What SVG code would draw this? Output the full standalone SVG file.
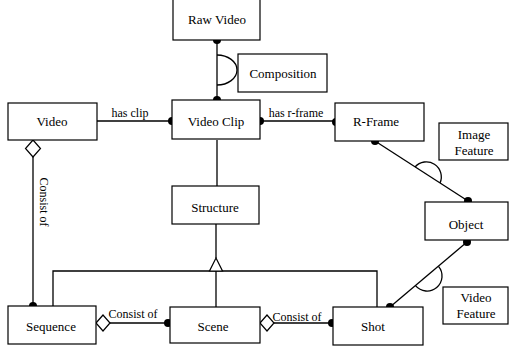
<svg xmlns="http://www.w3.org/2000/svg" width="510" height="347" viewBox="0 0 510 347">
<defs>
<style>
.box{fill:#fff;stroke:#000;stroke-width:1.2}
.ln{fill:none;stroke:#000;stroke-width:1.3}
.dot{fill:#000}
.dia{fill:#fff;stroke:#000;stroke-width:1.2}
.t{font-family:"Liberation Serif","DejaVu Serif",serif;font-size:13px;fill:#000;text-anchor:middle}
.lbl{font-size:12px}
</style>
</defs>
<rect width="510" height="347" fill="#fff"/>
<g id="connectors">
<line class="ln" x1="217" y1="40" x2="217" y2="100"/>
<path class="ln" d="M217,55 A20,15 0 0 1 217,85"/>
<line class="ln" x1="97" y1="121" x2="172" y2="121"/>
<line class="ln" x1="260" y1="121" x2="335" y2="121"/>
<line class="ln" x1="375" y1="141" x2="468" y2="201"/>
<path class="ln" d="M415,167 A15,15 0 0 1 440,183"/>
<line class="ln" x1="467" y1="242" x2="390" y2="307"/>
<path class="ln" d="M438.5,266.3 A15,15 0 0 1 415.5,285.7"/>
<line class="ln" x1="217" y1="140" x2="217" y2="186"/>
<line class="ln" x1="216" y1="224" x2="216" y2="258"/>
<polyline class="ln" points="53,306 53,271 377,271 377,307"/>
<line class="ln" x1="216" y1="271" x2="216" y2="307"/>
<polygon class="dia" points="216,258 222.5,271 209.5,271"/>
<line class="ln" x1="33" y1="157" x2="33" y2="306"/>
<polygon class="dia" points="33,140 40.5,148.5 33,157 25.5,148.5"/>
<line class="ln" x1="110" y1="323" x2="168" y2="323"/>
<polygon class="dia" points="96,323 103,315 110,323 103,331"/>
<line class="ln" x1="274" y1="323" x2="332" y2="323"/>
<polygon class="dia" points="260,323 267,315 274,323 267,331"/>
<circle class="dot" cx="217" cy="40" r="4"/>
<circle class="dot" cx="217" cy="100" r="4"/>
<circle class="dot" cx="172" cy="121" r="4"/>
<circle class="dot" cx="260" cy="121" r="4"/>
<circle class="dot" cx="336" cy="122" r="4"/>
<circle class="dot" cx="375" cy="141" r="4"/>
<circle class="dot" cx="468" cy="201" r="4"/>
<circle class="dot" cx="467" cy="242" r="4"/>
<circle class="dot" cx="390" cy="307" r="4"/>
<circle class="dot" cx="33" cy="306" r="4"/>
<circle class="dot" cx="168" cy="323" r="4"/>
<circle class="dot" cx="332" cy="323" r="4"/>
<text class="t lbl" x="130" y="117">has clip</text>
<text class="t lbl" x="296" y="117">has r-frame</text>
<text class="t lbl" x="133" y="318">Consist of</text>
<text class="t lbl" x="297" y="321">Consist of</text>
<text class="t lbl" transform="translate(40,202) rotate(90)">Consist of</text>
</g>
<g id="raw-video"><rect class="box" x="173" y="-2" width="87" height="42"/><text class="t" x="217" y="24">Raw Video</text></g>
<g id="composition"><rect class="box" x="238" y="54" width="89" height="38"/><text class="t" x="283" y="78">Composition</text></g>
<g id="video"><rect class="box" x="8" y="103" width="89" height="37"/><text class="t" x="52" y="126">Video</text></g>
<g id="video-clip"><rect class="box" x="172" y="100" width="88" height="39"/><text class="t" x="216" y="126">Video Clip</text></g>
<g id="r-frame"><rect class="box" x="335" y="103" width="89" height="38"/><text class="t" x="376" y="126">R-Frame</text></g>
<g id="image-feature"><rect class="box" x="439" y="123" width="69" height="37"/><text class="t" x="474" y="139">Image</text><text class="t" x="474" y="155">Feature</text></g>
<g id="structure"><rect class="box" x="172" y="186" width="87" height="38"/><text class="t" x="215" y="212">Structure</text></g>
<g id="object"><rect class="box" x="425" y="202" width="83" height="38"/><text class="t" x="466" y="229">Object</text></g>
<g id="video-feature"><rect class="box" x="443" y="287" width="65" height="37"/><text class="t" x="476" y="302">Video</text><text class="t" x="476" y="318">Feature</text></g>
<g id="sequence"><rect class="box" x="8" y="306" width="88" height="38"/><text class="t" x="51" y="331">Sequence</text></g>
<g id="scene"><rect class="box" x="170" y="307" width="90" height="36"/><text class="t" x="213" y="331">Scene</text></g>
<g id="shot"><rect class="box" x="333" y="307" width="90" height="38"/><text class="t" x="373" y="331">Shot</text></g>
</svg>
